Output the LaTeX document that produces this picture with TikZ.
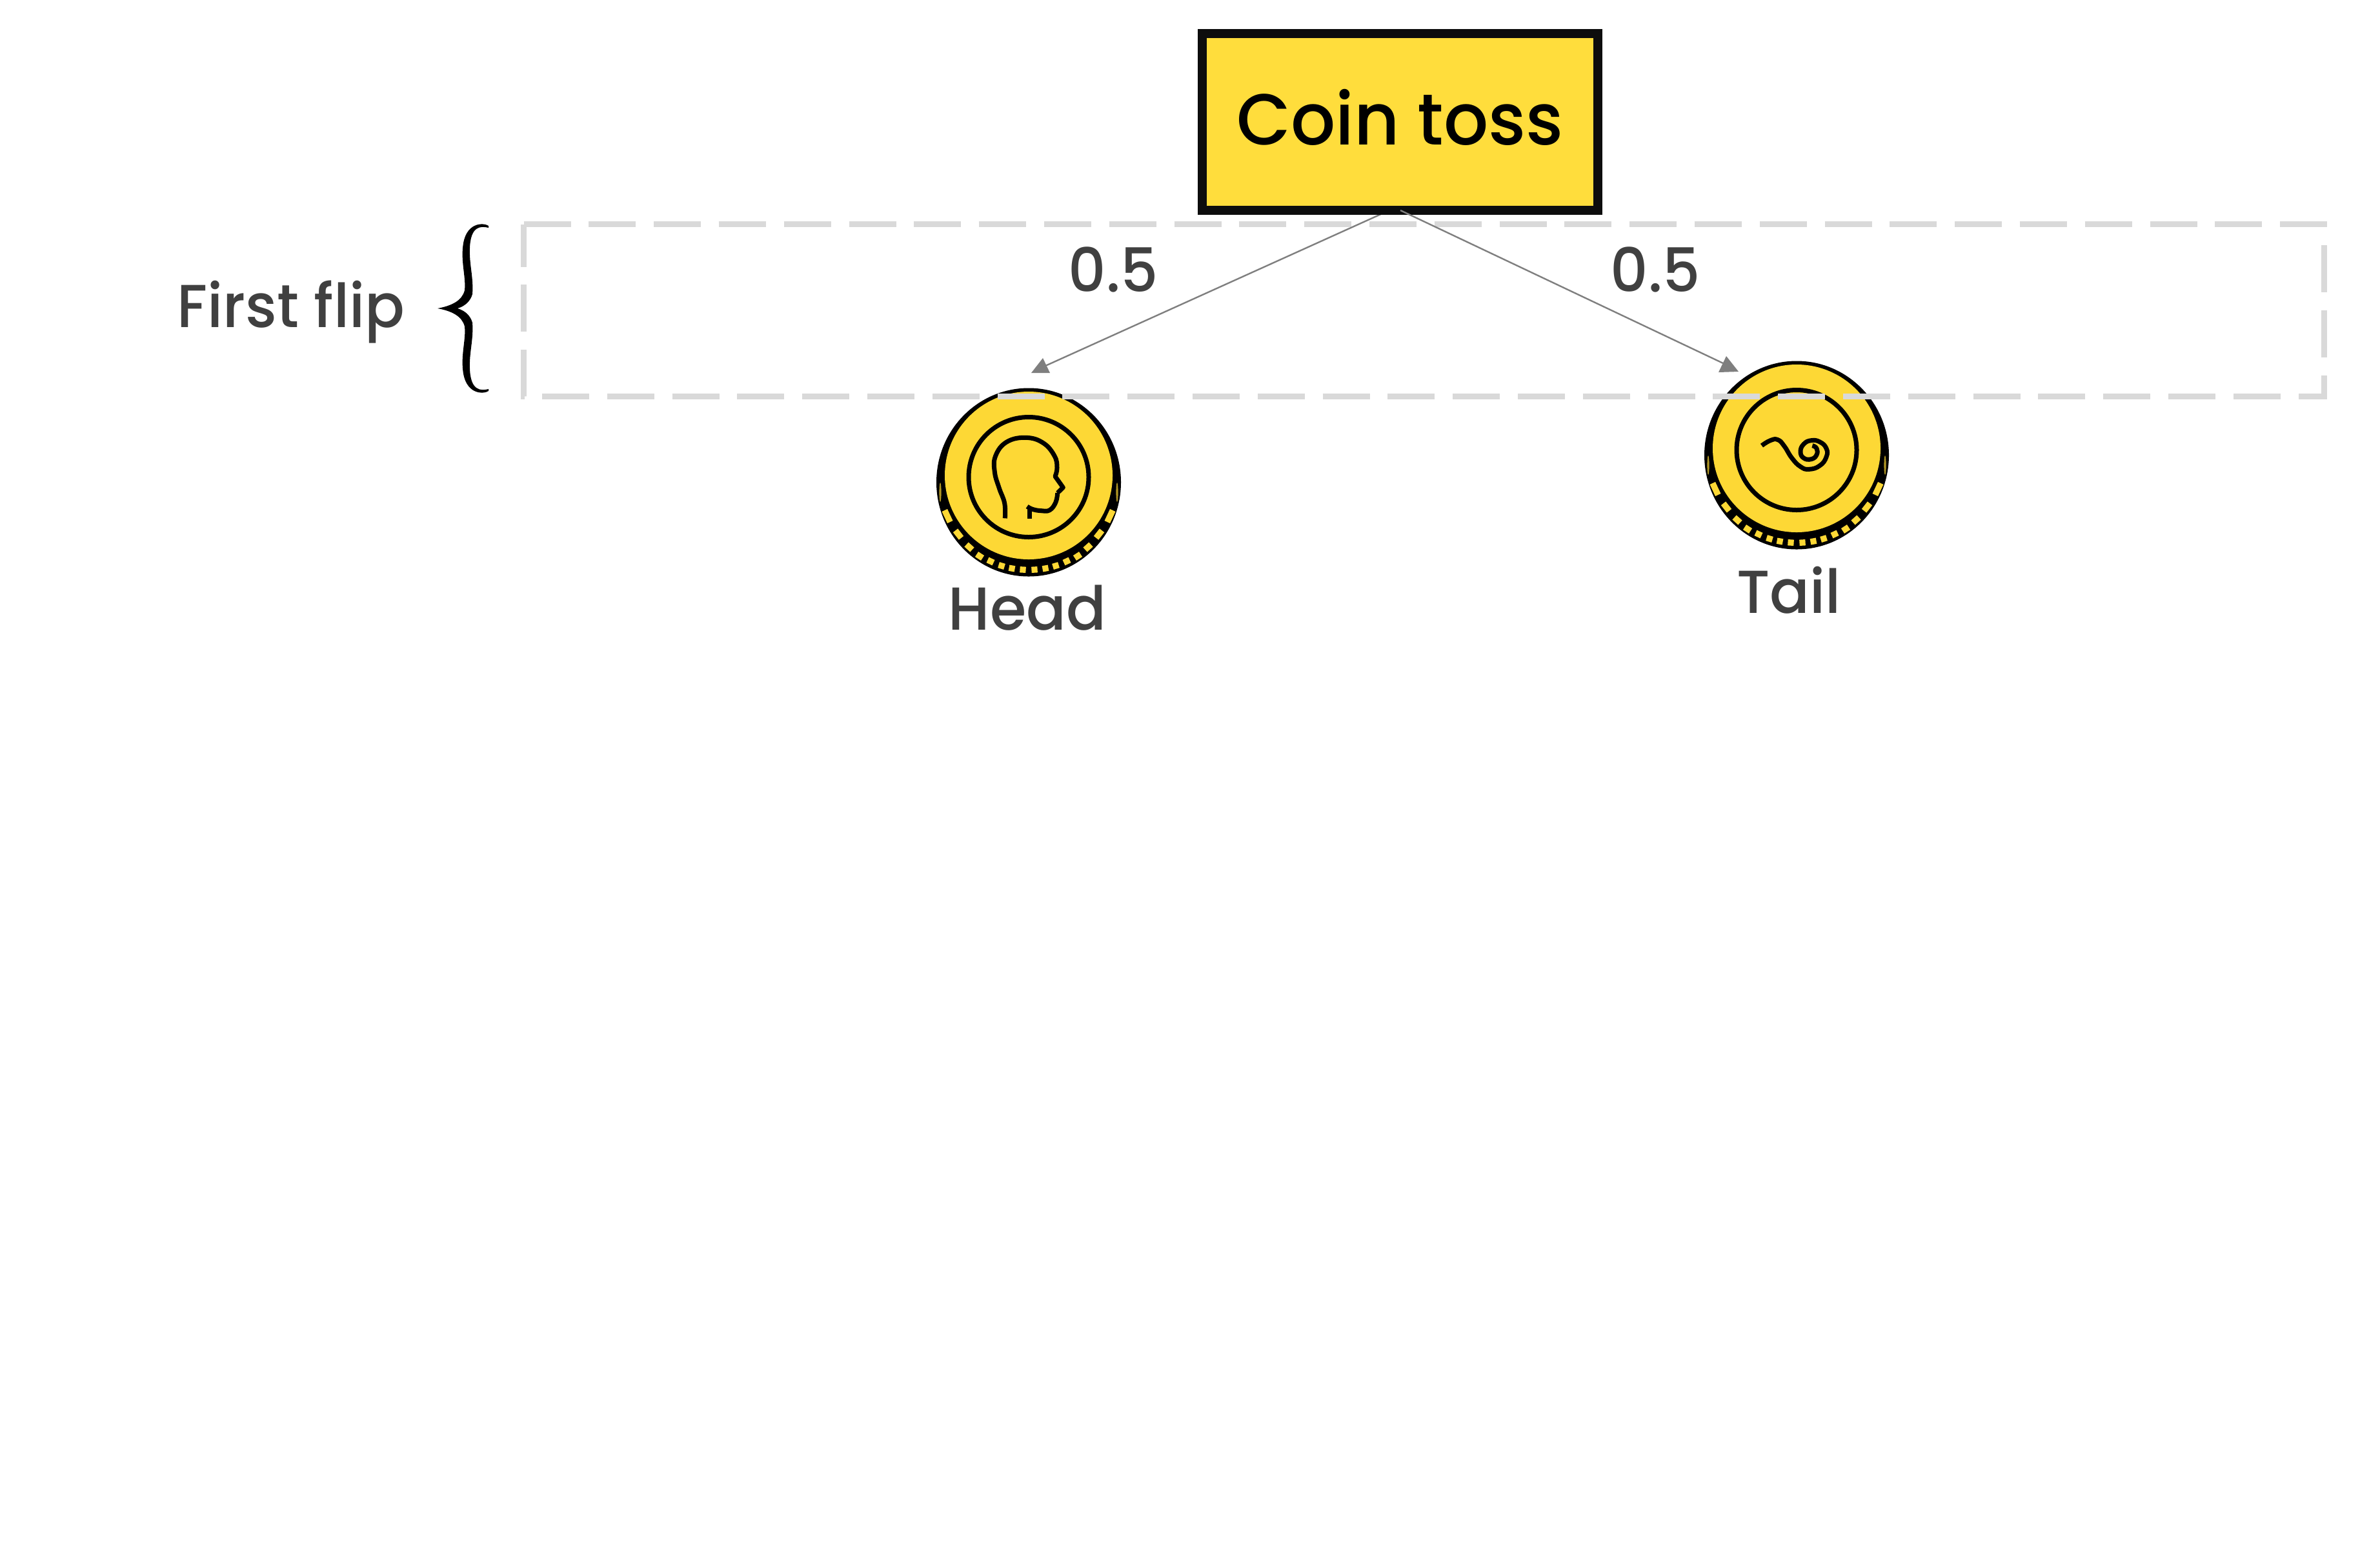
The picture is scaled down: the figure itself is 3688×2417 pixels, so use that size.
\documentclass[tikz,border=0pt]{standalone}
\usepackage{fontspec}
\setmainfont{Poppins Medium}[FakeStretch=0.97]
\definecolor{boxyellow}{HTML}{FFDD3C}
\definecolor{coinyellow}{HTML}{FDD835}
\definecolor{boxblack}{HTML}{0D0D0D}
\definecolor{dashgrey}{HTML}{D9D9D9}
\definecolor{linegrey}{HTML}{7F7F7F}
\definecolor{textgrey}{HTML}{404040}
\tikzset{
  toss/.style={draw=boxblack,fill=boxyellow,line width=7pt,inner sep=0pt,outer sep=0pt,
    minimum width=306.5pt,minimum height=137pt,text height=35pt,text depth=0pt,
    font=\fontsize{56}{60}\selectfont,text=black},
  lab/.style={anchor=base,inner sep=0pt,outer sep=0pt,text=textgrey,font=\fontsize{47}{52}\selectfont},
  conn/.style={draw=linegrey,line width=1.2pt},
  tip/.style={fill=linegrey},
  band/.style={draw=dashgrey,line width=4.5pt,dash pattern=on 36.5pt off 13.9pt,line cap=butt,miter limit=10},
  coinline/.style={draw=black,line width=3.5pt,line cap=butt,line join=round},
  coinbase/.pic={
    \fill[black] (0,2.5) ellipse[x radius=143,y radius=146];
    \fill[coinyellow] (0,-8) ellipse[x radius=130,y radius=130];
    \foreach \px/\py/\ang/\wid in {9/138/3.5/4.6,26/136/10/4.6,42/132/17/4.7,59/125/25/5,76/117/33/5.4,92/103/42/6,109/83/52/7.3,126/55/65/10}{
      \fill[coinyellow,shift={(\px,\py)},rotate=\ang] (-\wid,-4.7) rectangle (\wid,4.7);
      \fill[coinyellow,shift={(-\px,\py)},rotate=-\ang] (-\wid,-4.7) rectangle (\wid,4.7);
    }
    \fill[coinyellow!70!black] (137,18) ellipse[x radius=1.6,y radius=15];
    \fill[coinyellow!70!black] (-137,18) ellipse[x radius=1.6,y radius=15];
    \draw[coinline] (0,-5.5) circle[radius=93];
  }
}
\begin{document}
\begin{tikzpicture}[x=0.5pt,y=-0.5pt]
\useasboundingbox (0,0) rectangle (3688,2417);
% coins
\pic at (1594,745) {coinbase};
\pic at (2784,703) {coinbase};
\begin{scope}[shift={(1594,745)},shift={(-194,-195)},scale=1/3]
  \draw[coinline] plot[smooth,tension=0.7] coordinates {(472,760)(470,690)(445,620)(424,545)(428,470)(480,405)(570,385)(650,410)(702,470)(714,525)(705,565)}
    -- (742,617) -- (716,642)
    plot[smooth,tension=0.7] coordinates {(716,642)(708,685)(680,722)(640,725)(600,718)(575,705)};
  \draw[coinline] (585,712) -- (585,762);
\end{scope}
\begin{scope}[shift={(2784,703)},shift={(-184,-203)},scale=1/3]
  \draw[coinline] plot[smooth,tension=0.8] coordinates {(390,572)(430,548)(465,545)(495,575)(530,630)(570,670)(610,682)(660,665)(690,625)(690,585)(660,555)(620,548)(585,565)(570,600)(585,630)(620,635)(645,615)(645,585)(625,572)};
\end{scope}
% dashed band
\draw[band] (811.5,347.5) -- (3601.5,347.5) -- (3601.5,614.5) -- (811.5,614.5) -- cycle;
% named ends
\coordinate (fromleft) at (2153,326);
\coordinate (fromright) at (2170,326);
\coordinate (headend) at (1620,567);
\coordinate (tailend) at (2670,563);
% left connector, behind the box
\draw[conn] (fromleft) -- (headend);
\fill[tip] (1616,555) -- (1598,578) -- (1627,578) -- cycle;
% box
\node[toss] (coin) at (2169.5,189) {Coin toss};
% right connector, over the box
\draw[conn] (fromright) -- (tailend);
\fill[tip] (2675,552) -- (2663,577) -- (2694,576) -- cycle;
% labels
\node[lab] (first) at (451,507) {First flip};
\node[lab] (head) at (1592,976) {Head};
\node[lab] (tail) at (2772,950) {Tail};
\node[lab] (pl) at (1725,452) {0.5};
\node[lab] (pr) at (2565,452) {0.5};
% brace
\fill[black] (757,350) .. controls (750,345) and (720,343) .. (717,385)
  .. controls (715,410) and (722,430) .. (720,450)
  .. controls (716,466) and (700,474) .. (678,478)
  .. controls (700,482) and (716,490) .. (720,506)
  .. controls (722,526) and (715,546) .. (717,571)
  .. controls (720,613) and (750,611) .. (757,606)
  -- (757,603)
  .. controls (745,606) and (729,606) .. (728,571)
  .. controls (727,546) and (734,526) .. (732,500)
  .. controls (729,490) and (722,482) .. (709,478)
  .. controls (722,474) and (729,466) .. (732,456)
  .. controls (734,430) and (727,410) .. (728,385)
  .. controls (729,350) and (745,350) .. (757,353)
  -- cycle;
\end{tikzpicture}
\end{document}
